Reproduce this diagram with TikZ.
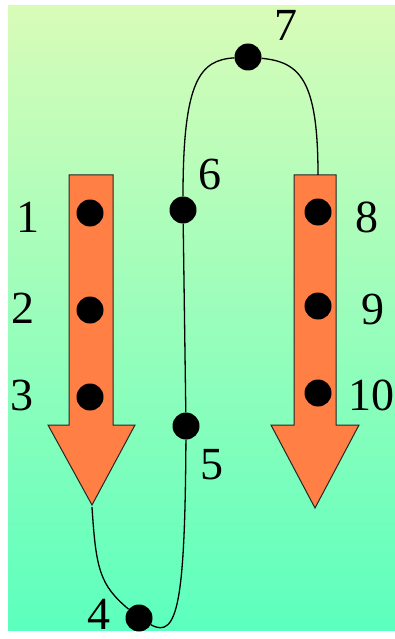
\documentclass[tikz,border=0pt]{standalone}
\usepackage{fontspec}
\setmainfont{Liberation Serif}
\usetikzlibrary{positioning}
\definecolor{bgtop}{RGB}{216,252,184}
\definecolor{bgbot}{RGB}{92,255,190}
\definecolor{arroworange}{RGB}{255,127,68}

\begin{document}
\begin{tikzpicture}[
        x=1pt, y=-1pt,
        dot/.style={circle, fill=black, inner sep=0pt, minimum size=27pt},
        num/.style={font=\fontsize{46}{52}\selectfont, inner sep=0pt},
        bigarrow/.style={draw=black!85, fill=arroworange, line width=1pt},
        curve/.style={draw=black, line width=1.3pt}
    ]
        \useasboundingbox (0,0) rectangle (395,639);
        \shade[top color=bgtop, bottom color=bgbot] (8,6) rectangle (395,630);

        % Arrows
        \draw[bigarrow] (69,175) -- (113,175) -- (113,425) -- (135,425) -- (92,505) -- (48,425) -- (69,425) -- cycle;
        \draw[bigarrow] (294,175) -- (336,175) -- (336,425) -- (359,425) -- (315,508) -- (271,425) -- (294,425) -- cycle;
        \coordinate (ltip) at (92,507);
        \coordinate (rtop) at (318,175);

        % Dots
        \node[dot] (d1) at (90,213) {};
        \node[dot] (d2) at (90,310) {};
        \node[dot] (d3) at (90,397) {};
        \node[dot] (d4) at (139,618) {};
        \node[dot] (d5) at (186,426) {};
        \node[dot] (d6) at (183,210) {};
        \node[dot] (d7) at (248,57) {};
        \node[dot] (d8) at (318,212) {};
        \node[dot] (d9) at (318,306) {};
        \node[dot] (d10) at (318,393) {};

        % Labels
        \node[num] (n1) at (28,217) {1};
        \node[num] (n2) at (23,308) {2};
        \node[num] (n3) at (22,395) {3};
        \node[num] (n4) at (99,614) {4};
        \node[num] (n5) at (212,465) {5};
        \node[num] (n6) at (210,174) {6};
        \node[num] (n7) at (286,25) {7};
        \node[num] (n8) at (367,217) {8};
        \node[num] (n9) at (373,309) {9};
        \node[num] (n10) at (371,395) {10};

        % Path
        \draw[curve] (ltip) .. controls (96,570) and (100,585) .. (d4);
        \draw[curve] (d4) .. controls (178,640) and (185,600) .. (d5);
        \draw[curve] (d5) -- (d6);
        \draw[curve] (d6) .. controls (183,80) and (200,60) .. (d7);
        \draw[curve] (d7) .. controls (300,62) and (318,80) .. (rtop);
    \end{tikzpicture}
\end{document}
